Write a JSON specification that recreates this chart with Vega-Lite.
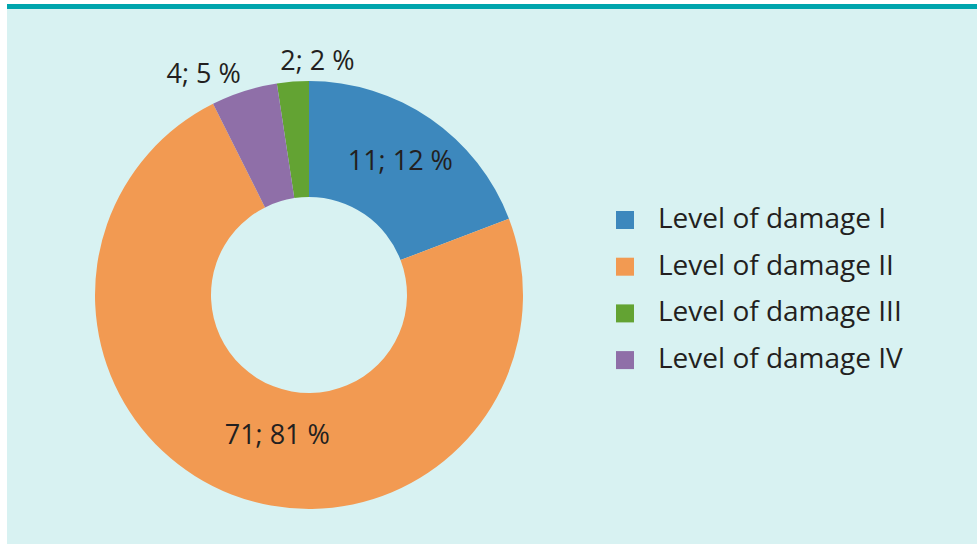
{
  "$schema": "https://vega.github.io/schema/vega-lite/v6.json",
  "background": "#ffffff",
  "padding": {"left": 7, "top": 4, "right": 0, "bottom": 0},
  "spacing": 0,
  "datasets": {
    "damage": [
      {"level": "Level of damage I", "share": 19.2, "label": "11; 12 %"},
      {"level": "Level of damage II", "share": 73.4, "label": "71; 81 %"},
      {"level": "Level of damage III", "share": 2.4, "label": "2; 2 %"},
      {"level": "Level of damage IV", "share": 5.0, "label": "4; 5 %"}
    ],
    "panel": [{"part": "background"}]
  },
  "vconcat": [
    {
      "width": 970,
      "height": 5,
      "data": {"name": "panel"},
      "mark": {"type": "rect", "color": "#00a5ad"},
      "encoding": {}
    },
    {
      "spacing": 0,
      "hconcat": [
        {
          "spacing": 0,
          "vconcat": [
            {
              "width": 604,
              "height": 37,
              "data": {"name": "panel"},
              "mark": {"type": "rect", "color": "#d8f2f2"},
              "encoding": {}
            },
            {
              "width": 604,
              "height": 498,
              "layer": [
                {
                  "data": {"name": "panel"},
                  "mark": {"type": "rect", "color": "#d8f2f2"},
                  "encoding": {}
                },
                {
                  "data": {"name": "damage"},
                  "mark": {"type": "arc", "outerRadius": 214, "innerRadius": 98},
                  "encoding": {
                    "theta": {"field": "share", "type": "quantitative", "stack": true, "scale": {"range": [1.20637, 7.48956]}},
                    "order": {"field": "label", "type": "nominal", "sort": "descending"},
                    "color": {
                      "field": "level",
                      "type": "nominal",
                      "scale": {
                        "domain": ["Level of damage I", "Level of damage II", "Level of damage III", "Level of damage IV"],
                        "range": ["#3d88bd", "#f29a52", "#63a333", "#8f6fa8"]
                      },
                      "legend": {
                        "orient": "none",
                        "legendX": 604,
                        "legendY": 202,
                        "title": null,
                        "symbolType": "square",
                        "symbolSize": 324,
                        "symbolStrokeWidth": 0,
                        "labelFont": "Open Sans",
                        "labelFontSize": 28,
                        "labelColor": "#231f20",
                        "labelOffset": 19,
                        "labelLimit": 0,
                        "rowPadding": 18.7,
                        "padding": 0
                      }
                    }
                  }
                },
                {
                  "data": {"name": "damage"},
                  "mark": {"type": "text", "radius": 161, "font": "Open Sans", "fontSize": 27, "color": "#231f20", "align": "center", "baseline": "middle"},
                  "encoding": {
                    "theta": {"field": "share", "type": "quantitative", "stack": true},
                    "order": {"field": "label", "type": "nominal", "sort": "descending"},
                    "text": {"condition": {"test": "datum.level === 'Level of damage I'", "field": "label"}, "value": ""}
                  }
                },
                {
                  "data": {"name": "damage"},
                  "mark": {"type": "text", "radius": 151, "dx": 23, "font": "Open Sans", "fontSize": 27, "color": "#231f20", "align": "center", "baseline": "middle"},
                  "encoding": {
                    "theta": {"field": "share", "type": "quantitative", "stack": true},
                    "order": {"field": "label", "type": "nominal", "sort": "descending"},
                    "text": {"condition": {"test": "datum.level === 'Level of damage II'", "field": "label"}, "value": ""}
                  }
                },
                {
                  "data": {"name": "damage"},
                  "mark": {"type": "text", "radius": 234, "dx": 26, "font": "Open Sans", "fontSize": 27, "color": "#231f20", "align": "center", "baseline": "middle"},
                  "encoding": {
                    "theta": {"field": "share", "type": "quantitative", "stack": true},
                    "order": {"field": "label", "type": "nominal", "sort": "descending"},
                    "text": {"condition": {"test": "datum.level === 'Level of damage III'", "field": "label"}, "value": ""}
                  }
                },
                {
                  "data": {"name": "damage"},
                  "mark": {"type": "text", "radius": 232, "dx": -35, "dy": 1, "font": "Open Sans", "fontSize": 27, "color": "#231f20", "align": "center", "baseline": "middle"},
                  "encoding": {
                    "theta": {"field": "share", "type": "quantitative", "stack": true},
                    "order": {"field": "label", "type": "nominal", "sort": "descending"},
                    "text": {"condition": {"test": "datum.level === 'Level of damage IV'", "field": "label"}, "value": ""}
                  }
                }
              ]
            }
          ]
        },
        {
          "width": 366,
          "height": 535,
          "data": {"name": "panel"},
          "mark": {"type": "rect", "color": "#d8f2f2"},
          "encoding": {}
        }
      ]
    }
  ],
  "config": {
    "view": {"stroke": null},
    "font": "Open Sans",
    "concat": {"spacing": 0}
  }
}
